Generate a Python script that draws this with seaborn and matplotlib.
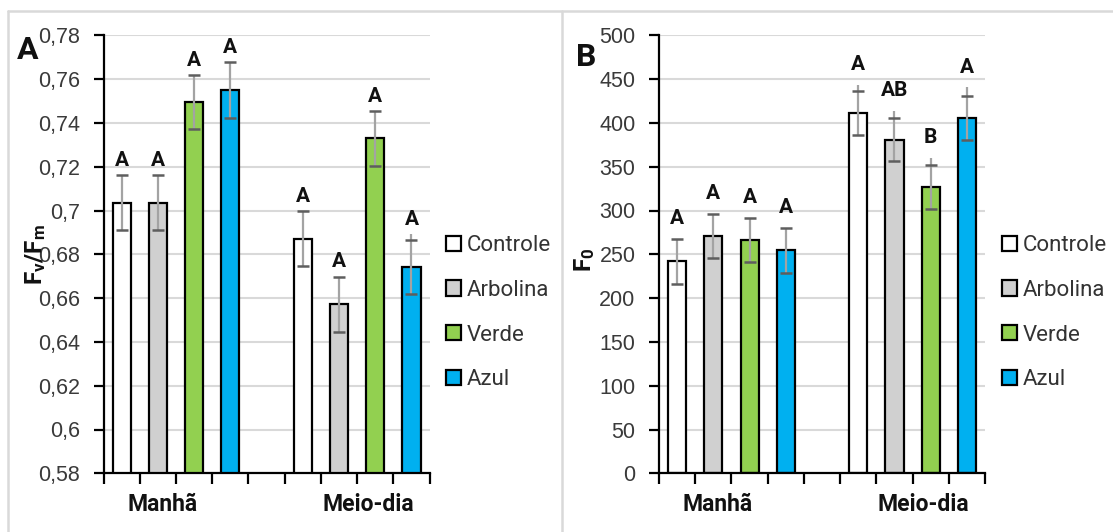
import numpy as np
import pandas as pd
import matplotlib
matplotlib.use("Agg")
import matplotlib.pyplot as plt
import seaborn as sns
from matplotlib.lines import Line2D
from matplotlib.patches import Patch
from matplotlib.ticker import FuncFormatter

# ---------------- data ----------------
periods = ["Manhã", "Meio-dia"]
treatments = ["Controle", "Arbolina", "Verde", "Azul"]
colors = ["#ffffff", "#d0d0d0", "#92d050", "#00b0f0"]

# Panel A: Fv/Fm
fvfm_manha = [0.7036, 0.7036, 0.7495, 0.7551]
fvfm_meiodia = [0.6872, 0.6572, 0.7329, 0.6742]
fvfm_err_manha = [0.0126, 0.0126, 0.0123, 0.0127]
fvfm_err_meiodia = [0.0126, 0.0126, 0.0124, 0.0125]
fvfm_line_manha = [0.0126, 0.0126, 0.0123, 0.0127]
fvfm_line_meiodia = [0.0126, 0.0126, 0.0124, 0.0150]
fvfm_letters_manha = ["A", "A", "A", "A"]
fvfm_letters_meiodia = ["A", "A", "A", "A"]

# Panel B: F0
f0_manha = [242.0, 271.0, 266.5, 254.5]
f0_meiodia = [411.7, 381.0, 327.0, 405.5]
f0_err_manha = [25.5, 25.0, 25.0, 25.5]
f0_err_meiodia = [25.0, 25.0, 25.0, 25.0]
f0_line_manha = [25.5, 25.0, 25.0, 25.5]
f0_line_meiodia = [32.0, 33.0, 33.0, 35.0]
f0_letters_manha = ["A", "A", "A", "A"]
f0_letters_meiodia = ["A", "AB", "B", "A"]

fvfm_ticks = np.round(np.arange(0.58, 0.781, 0.02), 2)
f0_ticks = np.arange(0, 501, 50)


def make_df(v1, v2, e1, e2, l1, l2, t1, t2):
    rows = []
    for per, vals, errs, lines, lets in [
        (periods[0], v1, e1, l1, t1),
        (periods[1], v2, e2, l2, t2),
    ]:
        for tr, v, e, l, t in zip(treatments, vals, errs, lines, lets):
            rows.append(dict(period=per, treatment=tr, value=v, err=e, line=l, letter=t))
    return pd.DataFrame(rows)


dfA = make_df(fvfm_manha, fvfm_meiodia, fvfm_err_manha, fvfm_err_meiodia,
              fvfm_line_manha, fvfm_line_meiodia, fvfm_letters_manha, fvfm_letters_meiodia)
dfB = make_df(f0_manha, f0_meiodia, f0_err_manha, f0_err_meiodia,
              f0_line_manha, f0_line_meiodia, f0_letters_manha, f0_letters_meiodia)

# ---------------- style ----------------
sns.set_style("white")
plt.rcParams["font.family"] = ["Liberation Sans", "DejaVu Sans"]
plt.rcParams["mathtext.fontset"] = "custom"
plt.rcParams["mathtext.bf"] = "Roboto:bold"
plt.rcParams["mathtext.rm"] = "Roboto:bold"
plt.rcParams["mathtext.it"] = "Roboto:bold"

W, H = 1113, 532
fig = plt.figure(figsize=(W / 100, H / 100), dpi=100)
fig.patch.set_facecolor("white")

# panel frames
frame_kw = dict(color="#d9d9d9", lw=1.8, transform=fig.transFigure)
fig.add_artist(Line2D([8 / W, 1], [1 - 10.5 / H, 1 - 10.5 / H], **frame_kw))
fig.add_artist(Line2D([8 / W, 8 / W], [0, 1 - 10.5 / H], **frame_kw))
fig.add_artist(Line2D([561.5 / W, 561.5 / W], [0, 1 - 10.5 / H], **frame_kw))

ax_w = 326 / W
ax_h = 438 / H
ax_b = 1 - 473.3 / H
axA = fig.add_axes([103.6 / W, ax_b, ax_w, ax_h])
axB = fig.add_axes([659.0 / W, ax_b, ax_w, ax_h])


def draw_panel(ax, df, ylim, ticks, ylabel, label_xy, letter_off, legend_x):
    sns.barplot(data=df, x="period", y="value", hue="treatment",
                order=periods, hue_order=treatments, palette=colors,
                width=0.8, gap=0.5, edgecolor="black", linewidth=1.6,
                errorbar=None, legend=False, saturation=1, ax=ax, zorder=2)
    # error bars + letters
    for i, tr in enumerate(treatments):
        cont = ax.containers[i]
        sub = df[df.treatment == tr].set_index("period").loc[periods]
        xs = np.array([b.get_x() + b.get_width() / 2 for b in cont])
        ys = sub["value"].values
        ax.errorbar(xs, ys, yerr=[sub["err"].values, sub["line"].values],
                    fmt="none", ecolor="#a3a3a3", elinewidth=1.6, capsize=0, zorder=4)
        eb = ax.errorbar(xs, ys, yerr=sub["err"].values, fmt="none",
                         ecolor="#5e5e5e", elinewidth=1.6, capsize=4.2,
                         capthick=1.8, zorder=5)
        for lc in eb[2]:
            lc.set_visible(False)
        for x, y, up, t in zip(xs, ys, sub["line"].values, sub["letter"].values):
            ax.annotate(t, (x, y + up), xytext=(0, letter_off), textcoords="offset points",
                        ha="center", va="bottom", fontsize=15, fontweight="bold",
                        fontfamily="Roboto", color="#111111", zorder=6)

    ax.set_ylim(*ylim)
    ax.set_xlim(-0.4, 1.4)
    ax.set_yticks(ticks)
    ax.yaxis.set_major_formatter(FuncFormatter(lambda v, p: f"{round(v, 4):g}".replace(".", ",")))
    ax.set_xticks(np.arange(-0.4, 1.401, 0.2), minor=True)
    ax.set_xticks([-0.075, 1.06])
    ax.set_xticklabels(periods, fontfamily="Roboto", fontweight="bold",
                       fontsize=16.5, color="#111111")
    ax.tick_params(axis="x", which="major", length=0, pad=14)
    ax.tick_params(axis="x", which="minor", length=8, width=1.6, color="black",
                   direction="out", bottom=True)
    ax.tick_params(axis="y", which="major", length=7, width=1.6, color="black",
                   direction="out", pad=10, labelsize=15.5, labelcolor="#3a3a3a", left=True)
    ax.yaxis.grid(True, color="#d9d9d9", lw=1.5, zorder=0)
    ax.xaxis.grid(False)
    ax.set_axisbelow(True)
    for s in ["top", "right"]:
        ax.spines[s].set_visible(False)
    for s in ["left", "bottom"]:
        ax.spines[s].set_color("black")
        ax.spines[s].set_linewidth(1.6)
        ax.spines[s].set_zorder(6)
    ax.set_xlabel("")
    ax.set_ylabel(ylabel, fontsize=17.5, color="#111111")
    ax.yaxis.set_label_coords(*label_xy)

    handles = [Patch(facecolor=c, edgecolor="black", linewidth=1.6) for c in colors]
    leg = fig.legend(handles, treatments, loc="upper left",
                     bbox_to_anchor=(legend_x, 1 - 235 / H),
                     bbox_transform=fig.transFigure, frameon=False,
                     prop=dict(family="Roboto", size=16), labelcolor="#333333",
                     handlelength=0.68, handleheight=0.68, handletextpad=0.25,
                     labelspacing=1.07, borderpad=0, borderaxespad=0)
    return leg


draw_panel(axA, dfA, (0.58, 0.78), fvfm_ticks, r"$\mathbf{F_v/F_m}$",
           (-0.17, 0.5), 3.8, 446 / W)
draw_panel(axB, dfB, (0, 500), f0_ticks, r"$\mathbf{F_0}$",
           (-0.19, 0.487), 7.6, 1001.8 / W)

fig.text(17 / W, 1 - 35 / H, "A", fontsize=23, fontweight="bold",
         fontfamily="Roboto", va="top", ha="left", color="#111111")
fig.text(576 / W, 1 - 42 / H, "B", fontsize=23, fontweight="bold",
         fontfamily="Roboto", va="top", ha="left", color="#111111")

fig.savefig("out.png", dpi=100, facecolor="white")
